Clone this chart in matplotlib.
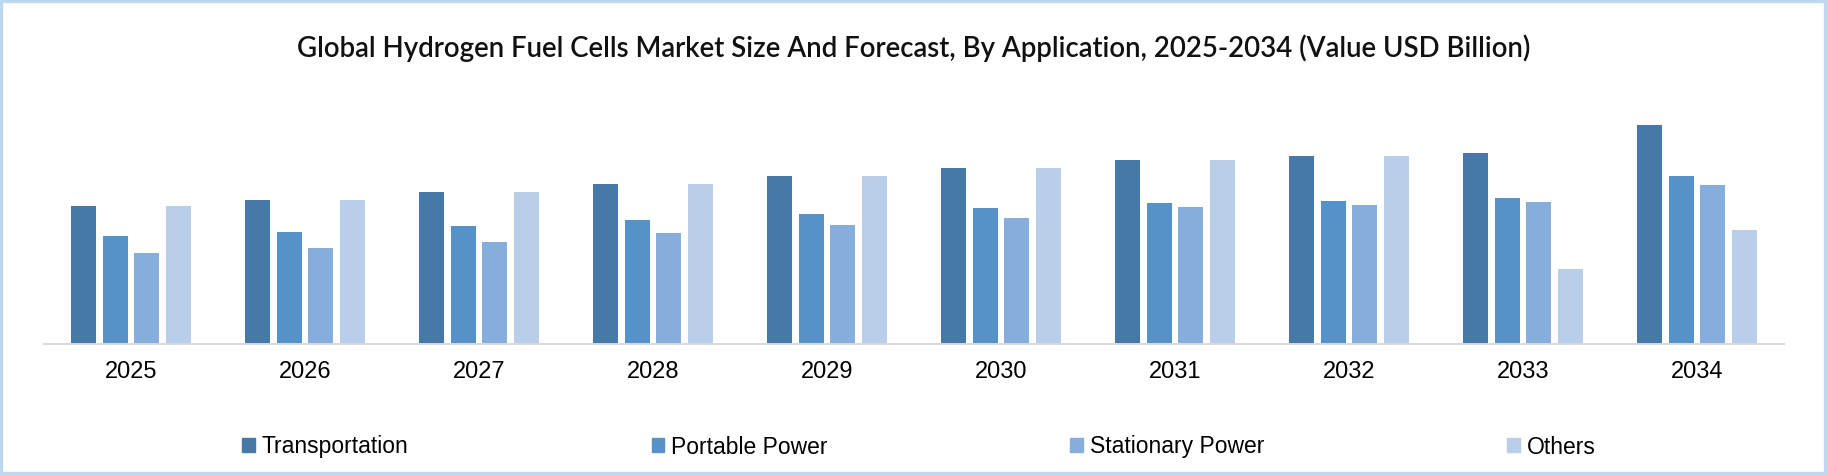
"""Global hydrogen fuel cells market by application, 2025-2034 - grouped bars."""
import matplotlib.pyplot as plt
import numpy as np
from matplotlib.patches import Patch, Rectangle

YEARS = ["2025", "2026", "2027", "2028", "2029", "2030", "2031", "2032", "2033", "2034"]
SERIES = ["Transportation", "Portable Power", "Stationary Power", "Others"]
TRANSPORTATION = [13.8, 14.4, 15.2, 16.0, 16.8, 17.6, 18.4, 18.8, 19.1, 21.9]
PORTABLE = [10.8, 11.2, 11.8, 12.4, 13.0, 13.6, 14.1, 14.3, 14.6, 16.8]
STATIONARY = [9.1, 9.6, 10.2, 11.1, 11.9, 12.6, 13.7, 13.9, 14.2, 15.9]
OTHERS = [13.8, 14.4, 15.2, 16.0, 16.8, 17.6, 18.4, 18.8, 7.5, 11.4]
TITLE = "Global Hydrogen Fuel Cells Market Size And Forecast, By Application, 2025-2034 (Value USD Billion)"

COLORS = ["#4679a8", "#5592c8", "#86aedd", "#b9cee8"]
W, H = 1827, 475


def main() -> None:
    fig = plt.figure(figsize=(W / 100, H / 100), dpi=100)
    ax = fig.add_axes([44 / W, (H - 344) / H, 1740 / W, 244 / H])

    x = np.arange(len(YEARS))
    for i, vals in enumerate([TRANSPORTATION, PORTABLE, STATIONARY, OTHERS]):
        ax.bar(x + (i - 1.5) * 0.182, vals, 0.144, color=COLORS[i], zorder=2)

    ax.set_xlim(-0.5, len(YEARS) - 0.5)
    ax.set_ylim(0, 24.4)
    ax.set_xticks(x, YEARS, fontsize=17, family=["Liberation Sans", "DejaVu Sans"])
    ax.tick_params(axis="x", length=0, pad=12)
    ax.set_yticks([])
    for side in ("top", "right", "left"):
        ax.spines[side].set_visible(False)
    ax.spines["bottom"].set_color("#d9d9d9")
    ax.spines["bottom"].set_linewidth(1.4)
    ax.spines["bottom"].set_zorder(3)

    fig.text(0.5, 1 - 57 / H, TITLE, ha="center", va="baseline", fontsize=19.9,
             fontweight="semibold", family=["Lato", "DejaVu Sans"], color="#111111")

    handles = [Patch(color=c) for c in COLORS]
    fig.legend(handles, SERIES, loc="center", bbox_to_anchor=(0.503, 1 - 447 / H), ncol=4,
               frameon=False, handlelength=0.55, handleheight=0.55, handletextpad=0.3,
               columnspacing=10.6, prop={"family": ["Liberation Sans", "DejaVu Sans"], "size": 16.5})

    # светло-голубая рамка вокруг картинки
    fig.patches.append(Rectangle((0, 0), 1, 1, transform=fig.transFigure, fill=False,
                                 edgecolor="#bdd7ee", linewidth=4.5))

    fig.savefig("out.png", dpi=100)
    plt.close(fig)


if __name__ == "__main__":
    main()
